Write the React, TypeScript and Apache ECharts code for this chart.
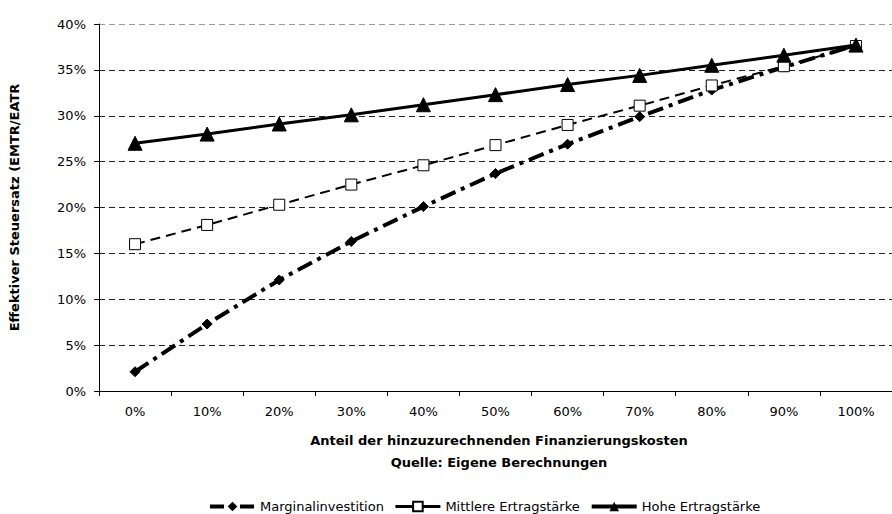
import React, { useEffect, useRef } from "react";
import * as echarts from "echarts";

const categories = ["0%", "10%", "20%", "30%", "40%", "50%", "60%", "70%", "80%", "90%", "100%"];
const marginal = [2.1, 7.3, 12.1, 16.3, 20.1, 23.7, 26.9, 29.9, 32.8, 35.3, 37.7];
const mittlere = [16.0, 18.1, 20.3, 22.5, 24.6, 26.8, 29.0, 31.1, 33.3, 35.4, 37.6];
const hohe = [27.0, 28.0, 29.1, 30.1, 31.2, 32.3, 33.4, 34.4, 35.5, 36.6, 37.7];
const seriesNames = ["Marginalinvestition", "Mittlere Ertragstärke", "Hohe Ertragstärke"];
const yAxisTitle = "Effektiver Steuersatz (EMTR/EATR";
const xAxisTitle = "Anteil der hinzuzurechnenden Finanzierungskosten";
const sourceNote = "Quelle: Eigene Berechnungen";

const FONT = "'DejaVu Sans', 'Liberation Sans', Arial, sans-serif";
const FS = 13;

export default function App() {
  const ref = useRef<HTMLDivElement>(null);
  useEffect(() => {
    if (!ref.current) return;
    const chart = echarts.init(ref.current, undefined, { renderer: "svg" });
    chart.setOption({
      animation: false,
      backgroundColor: "#ffffff",
      textStyle: { fontFamily: FONT },
      grid: { left: 98, top: 24, width: 803, height: 367, containLabel: false },
      legend: {
        left: 203,
        top: 495,
        itemWidth: 45,
        itemHeight: 12,
        itemGap: 10,
        textStyle: { fontFamily: FONT, fontSize: FS, color: "#000" },
        data: [
          { name: seriesNames[0], lineStyle: { width: 4, type: [14, 6, 4, 6] } },
          { name: seriesNames[1], lineStyle: { width: 3, type: "solid" } },
          { name: seriesNames[2], lineStyle: { width: 4, type: "solid" } },
        ],
      },
      xAxis: {
        type: "category",
        data: categories,
        boundaryGap: true,
        axisLine: { show: true, lineStyle: { color: "#000", width: 1 } },
        axisTick: { show: true, length: 5, lineStyle: { color: "#000" } },
        axisLabel: { color: "#000", fontSize: FS, fontFamily: FONT, margin: 14 },
        splitLine: { show: false },
      },
      yAxis: {
        type: "value",
        min: 0,
        max: 40,
        interval: 5,
        name: yAxisTitle,
        nameLocation: "middle",
        nameRotate: 90,
        nameGap: 78,
        nameTextStyle: { fontFamily: FONT, fontSize: FS, fontWeight: "bold", color: "#000" },
        axisLine: { show: true, lineStyle: { color: "#000", width: 1 } },
        axisTick: { show: true, length: 5, lineStyle: { color: "#000" } },
        axisLabel: { color: "#000", fontSize: FS, fontFamily: FONT, margin: 13, formatter: "{value}%" },
        splitLine: {
          show: true,
          lineStyle: {
            color: ["#000", "#222", "#222", "#222", "#222", "#222", "#222", "#222", "#999"],
            type: [6, 4],
            width: 1,
          },
        },
      },
      graphic: [
        {
          type: "text",
          x: 499,
          y: 440,
          style: {
            text: xAxisTitle,
            fontFamily: FONT,
            fontSize: FS,
            fontWeight: "bold",
            fill: "#000",
            textAlign: "center",
            textVerticalAlign: "middle",
          },
        },
        {
          type: "text",
          x: 499,
          y: 462,
          style: {
            text: sourceNote,
            fontFamily: FONT,
            fontSize: FS,
            fontWeight: "bold",
            fill: "#000",
            textAlign: "center",
            textVerticalAlign: "middle",
          },
        },
      ],
      series: [
        {
          name: seriesNames[0],
          type: "line",
          data: marginal,
          symbol: "diamond",
          symbolSize: 10,
          itemStyle: { color: "#000", borderColor: "#000" },
          lineStyle: { color: "#000", width: 4, type: [16, 6, 4, 6] },
          z: 2,
        },
        {
          name: seriesNames[1],
          type: "line",
          data: mittlere,
          symbol: "rect",
          symbolSize: 11,
          itemStyle: { color: "#fff", borderColor: "#000", borderWidth: 1 },
          lineStyle: { color: "#000", width: 2, type: [10, 6] },
          z: 3,
        },
        {
          name: seriesNames[2],
          type: "line",
          data: hohe,
          symbol: "triangle",
          symbolSize: 14,
          itemStyle: { color: "#000", borderColor: "#000" },
          lineStyle: { color: "#000", width: 3, type: "solid" },
          z: 4,
        },
      ],
    });
    return () => chart.dispose();
  }, []);
  return (
    <div
      ref={ref}
      style={{ position: "absolute", left: 0, top: 0, width: 892, height: 514, overflow: "hidden" }}
    />
  );
}
